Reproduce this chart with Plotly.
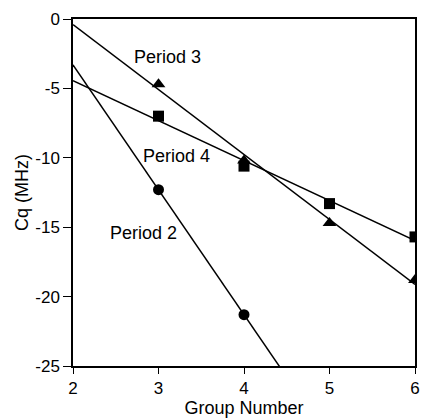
import numpy as np
import plotly.graph_objects as go

# Data
group = [3, 4, 5, 6]
period3 = [-4.7, -10.2, -14.7, -18.8]
period4 = [-7.0, -10.6, -13.3, -15.7]
group2 = [3, 4]
period2 = [-12.3, -21.3]

x_ticks = [2, 3, 4, 5, 6]
y_ticks = [0, -5, -10, -15, -20, -25]
y_tick_labels = ["0", "-5", "-10", "-15", "-20", "-25"]

FONT = "Liberation Sans, Arial, Helvetica, sans-serif"

fig = go.Figure()

def fit_line(xs, ys):
    m, b = np.polyfit(xs, ys, 1)
    xl = np.array([2.0, 6.0])
    return xl, m * xl + b

for xs, ys, sym, size in [
    (group, period3, "triangle-up", 12),
    (group, period4, "square", 11),
    (group2, period2, "circle", 11),
]:
    xl, yl = fit_line(xs, ys)
    fig.add_trace(go.Scatter(x=xl, y=yl, mode="lines",
                             line=dict(color="black", width=1.5),
                             showlegend=False, hoverinfo="skip"))
    fig.add_trace(go.Scatter(x=xs, y=ys, mode="markers",
                             marker=dict(symbol=sym, size=size, color="black"),
                             showlegend=False))

for txt, ax, ay in [("Period 3", 3.11, -2.74), ("Period 4", 3.205, -9.87), ("Period 2", 2.82, -15.42)]:
    fig.add_annotation(x=ax, y=ay, text=txt, showarrow=False,
                       font=dict(family=FONT, size=18, color="black"))

fig.update_layout(
    width=425, height=418,
    margin=dict(l=73, r=5, t=19, b=52),
    paper_bgcolor="white", plot_bgcolor="white",
    font=dict(family=FONT, size=17, color="black"),
)
fig.update_xaxes(range=[2, 6], tickvals=x_ticks, ticks="outside", ticklen=6,
                 tickcolor="black", showline=True, linecolor="black", linewidth=1.5,
                 mirror=True, showgrid=False, zeroline=False,
                 title=dict(text="Group Number", font=dict(size=18), standoff=2))
fig.update_yaxes(range=[-25, 0], tickvals=y_ticks, ticktext=y_tick_labels,
                 ticks="outside", ticklen=8,
                 tickcolor="black", showline=True, linecolor="black", linewidth=1.5,
                 mirror=True, showgrid=False, zeroline=False,
                 title=dict(text="Cq (MHz)", font=dict(size=18), standoff=2))

fig.write_html("out.html")
